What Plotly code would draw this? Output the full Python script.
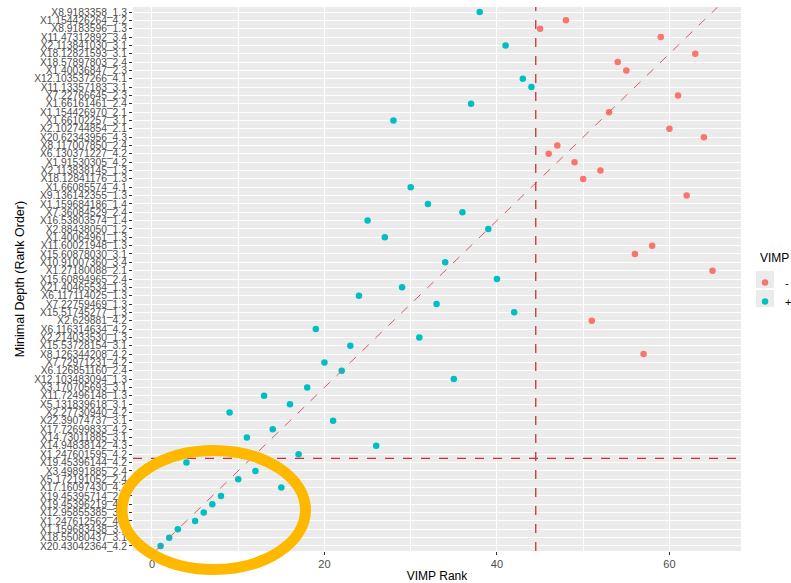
import plotly.graph_objects as go

# Variable labels, listed from the top row of the plot to the bottom row
labels_top_down = [
    "X8.9183358_1.3", "X1.154426264_4.2", "X8.9183596_1.3", "X11.47312892_3.4",
    "X2.113841030_3.1", "X18.12821593_3.1", "X18.57897803_2.4", "X1.40036847_2.3",
    "X12.103537266_4.1", "X11.13357183_3.1", "X7.22766645_2.3", "X1.66161461_2.4",
    "X1.154426970_2.1", "X1.66102257_3.1", "X2.102744854_2.1", "X20.62343956_4.3",
    "X8.117007850_2.4", "X6.130371227_4.2", "X1.91530305_4.2", "X2.113838145_1.3",
    "X18.12841176_1.3", "X1.66085574_4.1", "X9.136142355_1.3", "X1.159684186_1.4",
    "X7.36084529_2.4", "X16.53803574_1.4", "X2.88438050_1.2", "X1.40064961_1.3",
    "X11.60021948_1.3", "X15.60878030_3.1", "X10.91007360_3.4", "X1.27180088_2.1",
    "X15.60894965_2.4", "X21.40465534_1.3", "X6.117114025_1.3", "X7.22759469_1.3",
    "X15.51745277_1.3", "X2.629881_4.2", "X6.116314634_4.2", "X2.214033530_1.3",
    "X15.53728154_3.1", "X8.126344208_4.2", "X7.72971231_4.2", "X6.126851160_2.4",
    "X12.103483094_1.3", "X3.170705693_3.1", "X11.72496148_1.3", "X5.131839618_3.1",
    "X2.27730940_4.2", "X22.39074737_3.1", "X17.72699833_4.2", "X14.73011885_3.1",
    "X14.94838142_4.3", "X1.247601595_4.2", "X19.45396144_4.2", "X3.49891885_2.4",
    "X5.172191052_2.4", "X17.16097430_4.2", "X19.45395714_2.4", "X19.45396219_4.2",
    "X12.95855385_3.4", "X1.247612562_4.2", "X1.159683438_3.1", "X18.55080437_3.1",
    "X20.43042364_4.2",
]

# VIMP rank of each variable, same order as labels_top_down
vimp_rank_top_down = [
    38, 48, 45, 59, 41, 63, 54, 55, 43, 44, 61, 37, 53, 28, 60, 64,
    47, 46, 49, 52, 50, 30, 62, 32, 36, 25, 39, 27, 58, 56, 34, 65,
    40, 29, 24, 33, 42, 51, 19, 31, 23, 57, 20, 22, 35, 18, 13, 16,
    9, 21, 14, 11, 26, 17, 4, 12, 10, 15, 8, 7, 6, 5, 3, 2, 1,
]

# Cut-offs drawn as dashed reference lines
vimp_cut = 44.5
depth_cut = 11.5

# Sign of the VIMP for each variable
vimp_sign_top_down = ["-" if r > vimp_cut else "+" for r in vimp_rank_top_down]

x_ticks = [0, 20, 40, 60]

# Minimal depth rank order: bottom row is rank 1
labels = labels_top_down[::-1]
vimp_rank = vimp_rank_top_down[::-1]
vimp_sign = vimp_sign_top_down[::-1]

colors = {"-": "#F8766D", "+": "#00BFC4"}

fig = go.Figure()
for sign in ["-", "+"]:
    xs = [r for r, s in zip(vimp_rank, vimp_sign) if s == sign]
    ys = [l for l, s in zip(labels, vimp_sign) if s == sign]
    fig.add_trace(go.Scatter(
        x=xs, y=ys, mode="markers", name=sign,
        marker=dict(color=colors[sign], size=6.5, line=dict(width=0)),
    ))

n = len(labels)
x_lo, x_hi = -2.2, 68.3
y_lo, y_hi = -0.6, n - 1 + 0.6

# Panel geometry in pixels
W, H = 791, 583
ml, mr, mt, mb = 133, 50, 7, 32
pw, ph = W - ml - mr, H - mt - mb


def px(xp):
    return (xp - ml) / pw


def py(yp):
    return (H - mb - yp) / ph


shapes = [
    # y = x reference (rank position k sits at index k-1)
    dict(type="line", xref="x", yref="y", x0=y_lo + 1, y0=y_lo, x1=y_hi + 1, y1=y_hi,
         line=dict(color="#D0605E", width=1, dash="dash"), layer="above"),
    dict(type="line", xref="x", yref="paper", x0=vimp_cut, x1=vimp_cut, y0=0, y1=1,
         line=dict(color="#C8323A", width=1.3, dash="dash"), layer="above"),
    dict(type="line", xref="paper", yref="y", x0=0, x1=1,
         y0=depth_cut - 1, y1=depth_cut - 1,
         line=dict(color="#C8323A", width=1.3, dash="dash"), layer="above"),
    # legend key backgrounds
    dict(type="rect", xref="paper", yref="paper", x0=px(756), x1=px(774),
         y0=py(288), y1=py(271), fillcolor="#EBEBEB", line=dict(width=0), layer="below"),
    dict(type="rect", xref="paper", yref="paper", x0=px(756), x1=px(774),
         y0=py(307), y1=py(290), fillcolor="#EBEBEB", line=dict(width=0), layer="below"),
    # highlight ring around the lowest ranks
    dict(type="circle", xref="paper", yref="paper",
         x0=px(122), x1=px(305.5), y0=py(569.5), y1=py(450.5),
         line=dict(color="#FFB800", width=11), fillcolor="rgba(0,0,0,0)", layer="above"),
]

annotations = [
    dict(text="VIMP", xref="paper", yref="paper", x=px(758), y=py(258),
         xanchor="left", yanchor="middle", showarrow=False,
         font=dict(size=12, color="black")),
]

fig.update_layout(
    width=W, height=H,
    margin=dict(l=ml, r=mr, t=mt, b=mb, autoexpand=False),
    paper_bgcolor="white", plot_bgcolor="#EBEBEB",
    font=dict(family="Liberation Sans, Arial, sans-serif", color="black"),
    showlegend=True,
    legend=dict(
        x=px(745), xanchor="left", y=py(268), yanchor="top",
        bgcolor="rgba(0,0,0,0)", font=dict(size=11, color="black"),
        itemwidth=30, tracegroupgap=0,
    ),
    shapes=shapes,
    annotations=annotations,
    xaxis=dict(
        range=[x_lo, x_hi], tickvals=x_ticks, showgrid=True, gridcolor="white",
        gridwidth=1.3, zeroline=False, ticks="outside", ticklen=3,
        tickcolor="#333333", tickfont=dict(size=11, color="#4D4D4D"),
        minor=dict(dtick=10, tick0=0, showgrid=True, gridcolor="white", gridwidth=0.6),
        title=dict(text="VIMP Rank", font=dict(size=12), standoff=4),
        showline=False,
    ),
    yaxis=dict(
        type="category", categoryorder="array", categoryarray=labels,
        tickmode="array", tickvals=labels, ticktext=labels,
        range=[y_lo, y_hi], showgrid=True, gridcolor="white", gridwidth=1.1,
        ticks="outside", ticklen=3, tickcolor="#333333",
        tickfont=dict(size=10.3, color="#4D4D4D"),
        title=dict(text="Minimal Depth (Rank Order)", font=dict(size=12.5), standoff=6),
        zeroline=False, showline=False,
    ),
)

fig.write_html("out.html")
